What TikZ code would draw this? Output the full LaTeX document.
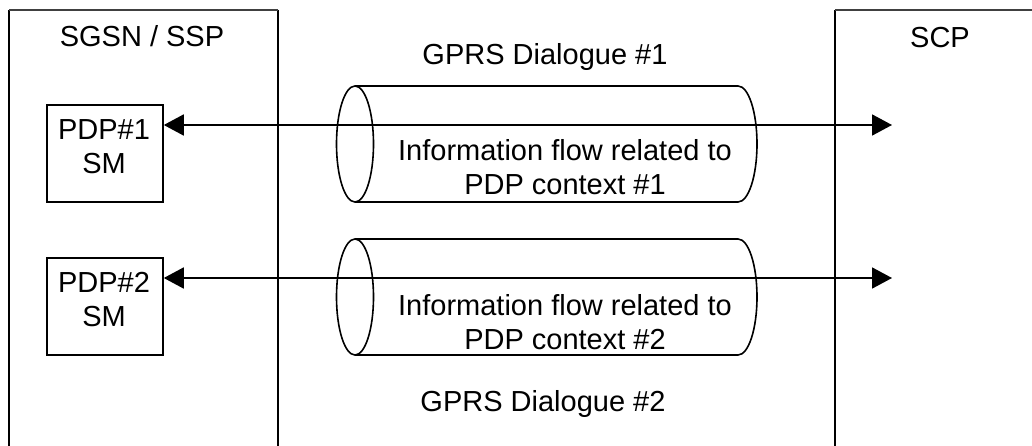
\documentclass[tikz,border=0pt]{standalone}
\usepackage{fontspec}
\setmainfont{Liberation Sans}
\usetikzlibrary{arrows.meta}
\begin{document}
\begin{tikzpicture}[x=1pt,y=-1pt,
  frame/.style={line width=1.8pt},
  topline/.style={line width=1.2pt,draw=black!75},
  pdpbox/.style={draw,line width=1.6pt,minimum width=116pt,minimum height=97pt,inner sep=0pt},
  txt/.style={font=\fontsize{29}{34}\selectfont,align=center,inner sep=0pt},
  tube/.style={line width=1.6pt},
  flow/.style={line width=1.8pt,{Triangle[length=20pt,width=21pt]}-{Triangle[length=20pt,width=21pt]}}
]
\useasboundingbox (0,0) rectangle (1032,446);
% entity frames
\draw[frame] (9,446) -- (9,10);
\draw[frame] (278,10) -- (278,446);
\draw[topline] (9,10) -- (278,10);
\draw[frame] (835,446) -- (835,10);
\draw[topline] (835,10) -- (1032,10);
\node[txt,anchor=base] (sgsn) at (142,47) {SGSN / SSP};
\node[txt,anchor=base] (scp) at (940,48) {SCP};
% dialogue labels
\node[txt,anchor=base] (d1) at (545,65) {GPRS Dialogue \#1};
\node[txt,anchor=base] (d2) at (543,411) {GPRS Dialogue \#2};
% PDP boxes
\node[pdpbox] (pdp1) at (105,153.5) {};
\node[txt] (pdp1t) at (104,147) {PDP\#1\\SM};
\node[pdpbox] (pdp2) at (105,306.5) {};
\node[txt] (pdp2t) at (104,300) {PDP\#2\\SM};
% tubes
\draw[tube] (355,86) -- (738,86) arc[start angle=-90,end angle=90,x radius=19,y radius=58] -- (355,202);
\draw[tube] (355,144) ellipse[x radius=18.5,y radius=58];
\draw[tube] (355,239) -- (738,239) arc[start angle=-90,end angle=90,x radius=19,y radius=58] -- (355,355);
\draw[tube] (355,297) ellipse[x radius=18.5,y radius=58];
\node[txt] (f1) at (565,167) {Information flow related to\\PDP context \#1};
\node[txt] (f2) at (565,322) {Information flow related to\\PDP context \#2};
% flows
\coordinate (t1) at (892,125);
\coordinate (t2) at (892,278);
\draw[flow] (pdp1.east |- t1) -- (t1);
\draw[flow] (pdp2.east |- t2) -- (t2);
\end{tikzpicture}
\end{document}
